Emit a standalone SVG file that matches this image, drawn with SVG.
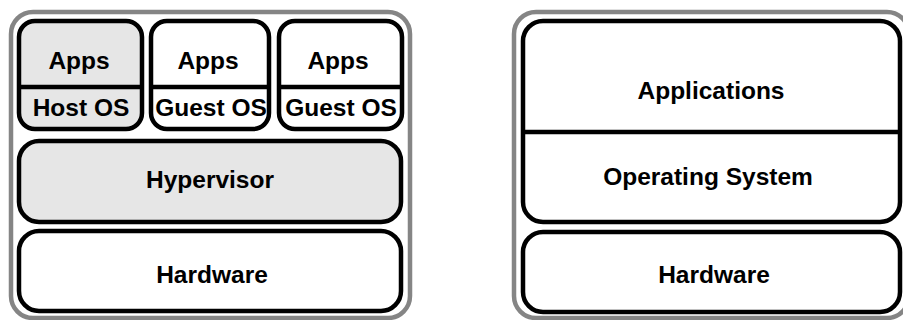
<svg xmlns="http://www.w3.org/2000/svg" width="903" height="320" viewBox="0 0 903 320">
<style>
.frame{fill:#ffffff;stroke:#858585;stroke-width:4.5}
.box{fill:#ffffff;stroke:#000000;stroke-width:4.5}
.shade{fill:#e6e6e6}
.div{stroke:#000000;stroke-width:4.5}
text{font-family:"Liberation Sans",Arial,sans-serif;font-weight:bold;font-size:24.5px;fill:#000000;text-anchor:middle}
</style>
<rect width="903" height="320" fill="#ffffff"/>
<g id="frame-left"><rect class="frame" x="11" y="12" width="399" height="306" rx="22"/></g>
<g id="frame-right"><rect class="frame" x="514" y="12" width="395" height="306" rx="22"/></g>
<g id="host">
<rect class="box shade" x="19" y="21" width="123" height="108" rx="16"/>
<line class="div" x1="19" y1="87" x2="142" y2="87"/>
<text x="79" y="69">Apps</text>
<text x="81" y="116">Host OS</text>
</g>
<g id="guest1">
<rect class="box" x="151" y="21" width="118" height="108" rx="16"/>
<line class="div" x1="151" y1="87" x2="269" y2="87"/>
<text x="208" y="69">Apps</text>
<text x="211" y="116">Guest OS</text>
</g>
<g id="guest2">
<rect class="box" x="279" y="21" width="123" height="108" rx="16"/>
<line class="div" x1="279" y1="87" x2="402" y2="87"/>
<text x="338" y="69">Apps</text>
<text x="341" y="116">Guest OS</text>
</g>
<g id="hypervisor">
<rect class="box shade" x="19" y="141" width="382" height="81" rx="20"/>
<text x="210" y="188">Hypervisor</text>
</g>
<g id="hardware-left">
<rect class="box" x="19" y="231" width="382" height="80" rx="20"/>
<text x="212" y="283">Hardware</text>
</g>
<g id="apps-os">
<rect class="box" x="523" y="21" width="377" height="201" rx="20"/>
<line class="div" x1="523" y1="132" x2="900" y2="132"/>
<text x="711" y="99">Applications</text>
<text x="708" y="185">Operating System</text>
</g>
<g id="hardware-right">
<rect class="box" x="523" y="232" width="377" height="80" rx="20"/>
<text x="714" y="283">Hardware</text>
</g>
<g id="connectors"></g>
</svg>
